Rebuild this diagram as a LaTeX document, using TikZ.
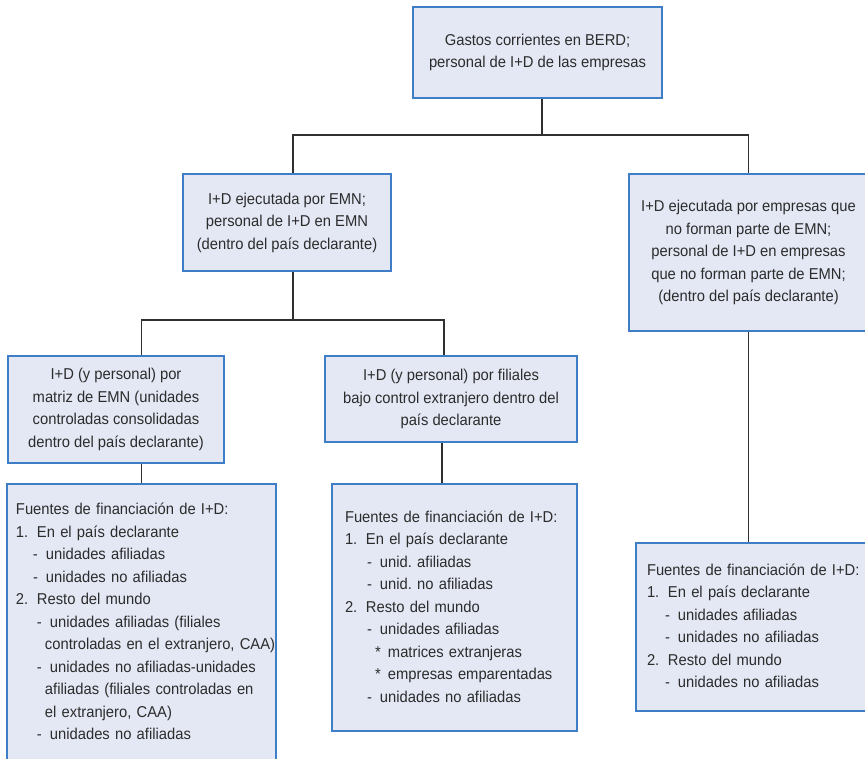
\documentclass[tikz,border=0pt]{standalone}
\usepackage{fontspec}
\setmainfont{Liberation Sans}[FakeStretch=0.94]
\definecolor{boxfill}{HTML}{E3E8F4}
\definecolor{boxline}{HTML}{3E7EC6}
\definecolor{ink}{HTML}{2C2C2C}
\definecolor{linkline}{HTML}{303030}
\newcommand{\numline}[2]{\makebox[21pt][l]{#1}#2}
\newcommand{\subline}[3]{\hspace*{#1pt}\makebox[13pt][l]{#2}#3}
\tikzset{box/.style={draw=boxline,fill=boxfill,line width=1.5pt,text=ink,align=center,inner sep=0pt,font=\fontsize{15.7}{22.5}\selectfont},fund/.style={box,align=left,inner ysep=0pt},link/.style={draw=linkline,line width=1.4pt}}

\begin{document}
\frenchspacing
\begin{tikzpicture}[x=1pt,y=-1pt]
\useasboundingbox (0,0) rectangle (865,759);
\node[box,minimum width=249,minimum height=91] (top) at (537.5,52.5) {Gastos corrientes en BERD;\\personal de I+D de las empresas};
\node[box,minimum width=208,minimum height=97] (emn) at (287,222.5) {I+D ejecutada por EMN;\\personal de I+D en EMN\\(dentro del país declarante)};
\node[box,minimum width=239,minimum height=157] (noemn) at (748.5,252.5) {I+D ejecutada por empresas que\\no forman parte de EMN;\\personal de I+D en empresas\\que no forman parte de EMN;\\(dentro del país declarante)};
\node[box,minimum width=216,minimum height=107] (matriz) at (116,409.5) {I+D (y personal) por\\matriz de EMN (unidades\\controladas consolidadas\\dentro del país declarante)};
\node[box,minimum width=252,minimum height=86] (filiales) at (451,399) {I+D (y personal) por filiales\\bajo control extranjero dentro del\\país declarante};
% fuentes de financiacion
\node[fund,minimum width=269,minimum height=277,inner xsep=9pt,text width=251pt] (fuentesA) at (141.5,622.5) {\begin{tabular}{@{}l@{}}
Fuentes de financiación de I+D:\\
\numline{1.}{En el país declarante}\\
\subline{17}{-}{unidades afiliadas}\\
\subline{17}{-}{unidades no afiliadas}\\
\numline{2.}{Resto del mundo}\\
\subline{21}{-}{unidades afiliadas (filiales}\\
\hspace*{29pt}controladas en el extranjero, CAA)\\
\subline{21}{-}{unidades no afiliadas-unidades}\\
\hspace*{29pt}afiliadas (filiales controladas en\\
\hspace*{29pt}el extranjero, CAA)\\
\subline{21}{-}{unidades no afiliadas}
\end{tabular}};
\node[fund,minimum width=245,minimum height=247,inner xsep=13pt,text width=219pt] (fuentesB) at (454.5,607.5) {\begin{tabular}{@{}l@{}}
Fuentes de financiación de I+D:\\
\numline{1.}{En el país declarante}\\
\subline{22}{-}{unid. afiliadas}\\
\subline{22}{-}{unid. no afiliadas}\\
\numline{2.}{Resto del mundo}\\
\subline{22}{-}{unidades afiliadas}\\
\subline{30}{*}{matrices extranjeras}\\
\subline{30}{*}{empresas emparentadas}\\
\subline{22}{-}{unidades no afiliadas}
\end{tabular}};
\node[fund,minimum width=232,minimum height=168,inner xsep=11pt,text width=210pt] (fuentesC) at (752,627) {\begin{tabular}{@{}l@{}}
Fuentes de financiación de I+D:\\
\numline{1.}{En el país declarante}\\
\subline{18}{-}{unidades afiliadas}\\
\subline{18}{-}{unidades no afiliadas}\\
\numline{2.}{Resto del mundo}\\
\subline{18}{-}{unidades no afiliadas}
\end{tabular}};
% connectors
\coordinate (bus1) at (542,135);
\coordinate (bus2) at (293,320);
\draw[link] (top.south -| bus1) -- (bus1);
\draw[link] (emn.north -| bus2) |- (bus1) -| (noemn.north);
\draw[link] (emn.south -| bus2) -- (bus2);
\draw[link] (matriz.north -| fuentesA.north) |- (bus2) -| ([xshift=-7]filiales.north);
\draw[link] (matriz.south -| fuentesA.north) -- (fuentesA.north);
\draw[link] ([xshift=-9]filiales.south) -- ([xshift=-9]filiales.south |- fuentesB.north);
\draw[link] (noemn.south) -- (noemn.south |- fuentesC.north);
\end{tikzpicture}
\end{document}
